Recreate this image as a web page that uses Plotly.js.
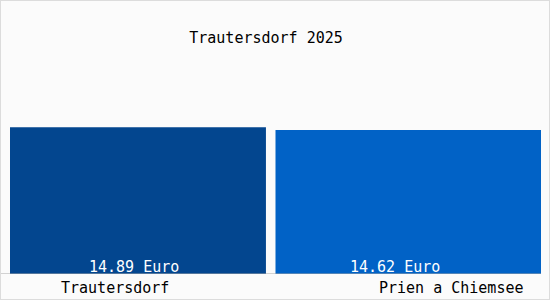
<!DOCTYPE html>
<html>
<head>
<meta charset="utf-8">
<script src="https://cdn.plot.ly/plotly-3.0.1.min.js"></script>
<style>
html,body{margin:0;padding:0;background:#fff;}
#wrap{width:548px;height:298px;border:1px solid #dcdcdc;background:#fbfbfb;}
#chart{width:548px;height:298px;}
</style>
</head>
<body>
<div id="wrap"><div id="chart"></div></div>
<script>
const categories = ["Trautersdorf", "Prien a Chiemsee"];
const values = [14.89, 14.62];
const valueLabels = ["14.89 Euro", "14.62 Euro"];
const titleText = "Trautersdorf 2025";

const colors = ["#03468f", "#0162c6"];
const font = "DejaVu Sans Mono, Liberation Mono, monospace";

const trace = {
  type: "bar",
  x: categories,
  y: values,
  width: [0.964, 1.0],
  offset: [-0.5, -0.5],
  marker: {color: colors, line: {width: 0}},
  hoverinfo: "none"
};

const valShift = [-9, -13];
const catShift = [-28, 43];
const annotations = [];
categories.forEach((c, i) => {
  annotations.push({
    x: c, y: 0, xref: "x", yref: "y",
    text: valueLabels[i], showarrow: false,
    xanchor: "center", yanchor: "middle",
    xshift: valShift[i], yshift: 7,
    font: {family: font, size: 15, color: "#ffffff"}
  });
  annotations.push({
    x: c, y: 0, xref: "x", yref: "y",
    text: c, showarrow: false,
    xanchor: "center", yanchor: "middle",
    xshift: catShift[i], yshift: -14,
    font: {family: font, size: 15, color: "#000000"}
  });
});

const layout = {
  width: 548, height: 298,
  margin: {l: 9, r: 8, t: 76, b: 25},
  paper_bgcolor: "#fbfbfb",
  plot_bgcolor: "#fbfbfb",
  showlegend: false,
  title: {
    text: titleText, xref: "container", yref: "container",
    x: 265/548, xanchor: "center", y: 1 - 37/298, yanchor: "middle",
    font: {family: font, size: 15, color: "#000000"}
  },
  xaxis: {range: [-0.5, 1.5], showticklabels: false, showgrid: false, zeroline: false, showline: false, ticks: "", fixedrange: true},
  yaxis: {range: [0, 20], showticklabels: false, showgrid: false, zeroline: false, showline: false, ticks: "", fixedrange: true},
  shapes: [{
    type: "line", xref: "paper", yref: "y",
    x0: -9/531, x1: 1, y0: 0, y1: 0,
    line: {color: "#a8a8a8", width: 1}
  }],
  annotations: annotations
};

Plotly.newPlot("chart", [trace], layout, {displayModeBar: false, staticPlot: true});
</script>
</body>
</html>
